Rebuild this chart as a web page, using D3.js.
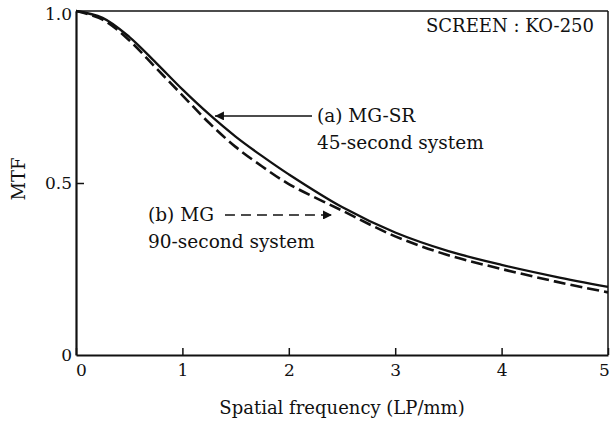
<!doctype html>
<html>
  <head>
    <style>
      body { margin: 0; background: white; }
      svg text { font-family: "DejaVu Serif", serif; fill: #111; }
    </style>
    <script src="https://cdn.jsdelivr.net/npm/d3@7/dist/d3.min.js"></script>
  </head>
  <body>
    <div id="chart"></div>
    <script>
      // spatial frequency (LP/mm)
      var freq = [0, 0.25, 0.5, 0.75, 1, 1.25, 1.5, 1.75, 2, 2.5, 3, 3.5, 4, 4.5, 5];
      // (a) MG-SR 45-second system
      var mtfA = [1.0, 0.98, 0.925, 0.85, 0.772, 0.70, 0.635, 0.578, 0.525, 0.43, 0.356, 0.302, 0.262, 0.228, 0.198];
      // (b) MG 90-second system
      var mtfB = [1.0, 0.975, 0.915, 0.835, 0.755, 0.675, 0.605, 0.548, 0.497, 0.42, 0.345, 0.29, 0.25, 0.214, 0.182];
      var xTicks = [0, 1, 2, 3, 4, 5];
      var yTicks = [0, 0.5, 1.0];
      var yTickLabels = ["0", "0.5", "1.0"];

      var width = 610, height = 422;
      var x0 = 76, x1 = 608, y0 = 355, y1 = 11;
      var serif = "'DejaVu Serif', serif";

      var svg = d3.select("#chart").append("svg")
                  .attr("width", width)
                  .attr("height", height);

      var x = d3.scaleLinear().domain([0, 5]).range([x0, x1]);
      var y = d3.scaleLinear().domain([0, 1]).range([y0, y1]);

      // frame (top and right, thinner)
      svg.append("line").attr("x1", x0).attr("x2", x1).attr("y1", y1).attr("y2", y1)
         .attr("stroke", "#111").attr("stroke-width", 1.5);
      svg.append("line").attr("x1", x1).attr("x2", x1).attr("y1", y1).attr("y2", y0)
         .attr("stroke", "#111").attr("stroke-width", 1.5);

      // axes
      var xAxis = d3.axisBottom(x).tickValues(xTicks).tickSizeInner(-7).tickSizeOuter(0).tickPadding(9)
                    .tickFormat(d3.format("d"));
      var gx = svg.append("g").attr("transform", "translate(0," + y0 + ")").call(xAxis);
      gx.attr("font-family", serif);
      gx.select(".domain").attr("stroke", "#111").attr("stroke-width", 2.2);
      gx.selectAll(".tick line").attr("stroke", "#111").attr("stroke-width", 1.5);
      gx.selectAll(".tick text").attr("font-size", 17)
        .attr("dx", function(d) { return d == 0 ? 5 : (d == 5 ? -4 : 0); })
        .style("font-family", serif).attr("fill", "#111");

      var yAxis = d3.axisLeft(y).tickValues(yTicks).tickSizeInner(-8).tickSizeOuter(0).tickPadding(4)
                    .tickFormat(function(d, i) { return yTickLabels[i]; });
      var gy = svg.append("g").attr("transform", "translate(" + x0 + ",0)").call(yAxis);
      gy.attr("font-family", serif);
      gy.select(".domain").attr("stroke", "#111").attr("stroke-width", 2.2);
      gy.selectAll(".tick line").attr("stroke", "#111").attr("stroke-width", 1.5)
        .attr("opacity", function(d) { return d == 0.5 ? 1 : 0; });
      gy.selectAll(".tick text").attr("font-size", 17).attr("dy", function(d) { return d == 1 ? "0.5em" : "0.32em"; })
        .style("font-family", serif).attr("fill", "#111");

      // axis titles
      svg.append("text").attr("x", (x0 + x1) / 2).attr("y", 414)
         .attr("text-anchor", "middle").attr("font-size", 18)
         .text("Spatial frequency (LP/mm)");
      svg.append("text").attr("transform", "translate(25,179) rotate(-90)")
         .attr("text-anchor", "middle").attr("font-size", 18)
         .text("MTF");

      svg.append("text").attr("x", 594).attr("y", 32)
         .attr("text-anchor", "end").attr("font-size", 18)
         .text("SCREEN : KO-250");

      // curves
      var line = d3.line()
                   .x(function(d, i) { return x(freq[i]); })
                   .y(function(d) { return y(d); })
                   .curve(d3.curveCatmullRom);

      svg.append("path").datum(mtfA).attr("d", line)
         .attr("fill", "none").attr("stroke", "#111").attr("stroke-width", 2.3);
      svg.append("path").datum(mtfB).attr("d", line)
         .attr("fill", "none").attr("stroke", "#111").attr("stroke-width", 2.6)
         .attr("stroke-dasharray", "12,5");

      // annotations (data coordinates)
      var defs = svg.append("defs");
      defs.append("marker").attr("id", "head").attr("viewBox", "0 0 10 10")
          .attr("refX", 10).attr("refY", 5).attr("markerWidth", 17).attr("markerHeight", 9)
          .attr("markerUnits", "userSpaceOnUse").attr("orient", "auto")
          .append("path").attr("d", "M0,0L10,5L0,10z").attr("fill", "#111");

      var annA = { tip: [1.306, 0.695], tail: 2.218, text: 2.265 };
      var annB = { tip: [2.406, 0.407], tail: 1.4, text: 0.677 };

      svg.append("line").attr("x1", x(annA.tail)).attr("x2", x(annA.tip[0]))
         .attr("y1", y(annA.tip[1])).attr("y2", y(annA.tip[1]))
         .attr("stroke", "#111").attr("stroke-width", 1.5).attr("marker-end", "url(#head)");
      svg.append("text").attr("x", x(annA.text)).attr("y", y(annA.tip[1]) + 6.5)
         .attr("font-size", 18.5).text("(a) MG-SR");
      svg.append("text").attr("x", x(annA.text)).attr("y", y(annA.tip[1]) + 33)
         .attr("font-size", 18.5).text("45-second system");

      svg.append("line").attr("x1", x(annB.tail)).attr("x2", x(annB.tip[0]))
         .attr("y1", y(annB.tip[1])).attr("y2", y(annB.tip[1]))
         .attr("stroke", "#111").attr("stroke-width", 1.5).attr("stroke-dasharray", "10,6")
         .attr("marker-end", "url(#head)");
      svg.append("text").attr("x", x(annB.text)).attr("y", y(annB.tip[1]) + 6.5)
         .attr("font-size", 18.5).text("(b) MG");
      svg.append("text").attr("x", x(annB.text)).attr("y", y(annB.tip[1]) + 33)
         .attr("font-size", 18.5).text("90-second system");
    </script>
  </body>
</html>
